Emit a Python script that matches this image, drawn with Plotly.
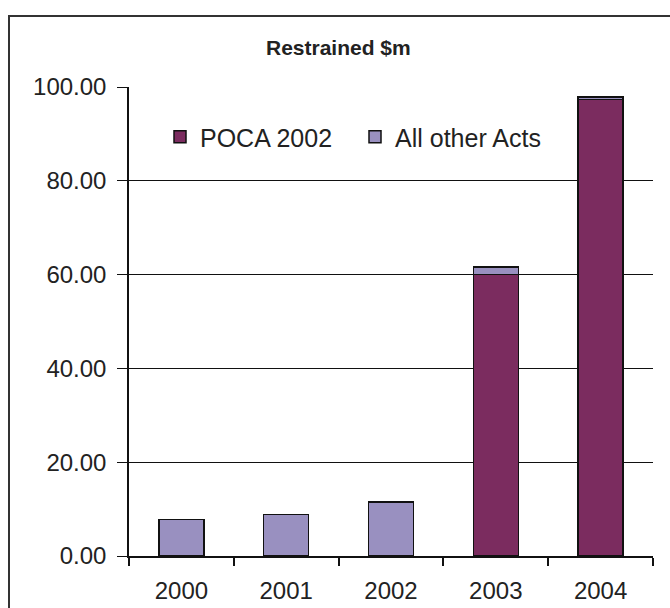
import plotly.graph_objects as go

years = ["2000", "2001", "2002", "2003", "2004"]
poca_2002 = [0, 0, 0, 60.0, 97.3]
all_other_acts = [7.8, 8.9, 11.5, 1.6, 0.6]
y_ticks = [0, 20, 40, 60, 80, 100]
y_tick_labels = ["0.00", "20.00", "40.00", "60.00", "80.00", "100.00"]

L, R, T, B = 129, 17, 87, 52
W, H = 670, 608
pw, ph = W - L - R, H - T - B

def px_x(p):
    return (p - L) / pw

def px_y(p):
    return (H - B - p) / ph

fig = go.Figure()
fig.add_trace(go.Bar(
    x=years, y=poca_2002, name="POCA 2002",
    marker=dict(color="#7B2C5F", line=dict(color="#111111", width=1.5)),
))
fig.add_trace(go.Bar(
    x=years, y=all_other_acts, name="All other Acts",
    marker=dict(color="#9990C0", line=dict(color="#111111", width=1.5)),
))

fig.update_layout(
    width=W, height=H,
    margin=dict(l=L, r=R, t=T, b=B),
    barmode="stack",
    bargap=0.57,
    plot_bgcolor="white",
    paper_bgcolor="white",
    font=dict(family="Liberation Sans, Arial, sans-serif", size=24, color="#222222"),
    showlegend=True,
    legend=dict(
        orientation="h",
        x=px_x(160), y=px_y(114), xanchor="left", yanchor="top",
        bgcolor="rgba(0,0,0,0)",
        font=dict(size=25, color="#222222"),
        traceorder="normal",
        itemwidth=30,
        entrywidth=150,
    ),
    xaxis=dict(
        type="category",
        automargin=False,
        showgrid=False,
        showline=True, linecolor="#111111", linewidth=1.5,
        ticks="outside", ticklen=8, tickcolor="#111111", tickwidth=1.5,
        tickson="boundaries",
        tickfont=dict(size=24),
        ticklabelstandoff=12,
    ),
    yaxis=dict(
        range=[0, 100],
        automargin=False,
        tickvals=y_ticks, ticktext=y_tick_labels,
        showgrid=True, gridcolor="#111111", gridwidth=1,
        showline=True, linecolor="#111111", linewidth=1.5,
        ticks="outside", ticklen=10, tickcolor="#111111", tickwidth=1,
        zeroline=False,
        tickfont=dict(size=24),
        ticklabelstandoff=6,
    ),
    shapes=[dict(
        type="rect", xref="paper", yref="paper",
        x0=px_x(9), x1=px_x(700), y0=px_y(700), y1=px_y(16),
        line=dict(color="#333333", width=2), fillcolor="rgba(0,0,0,0)",
        layer="below",
    )],
    annotations=[dict(
        text="<b>Restrained $m</b>", xref="paper", yref="paper",
        x=px_x(338), y=px_y(47), xanchor="center", yanchor="middle",
        showarrow=False, font=dict(size=21, color="#222222"),
    )],
)

fig.write_html("out.html")
